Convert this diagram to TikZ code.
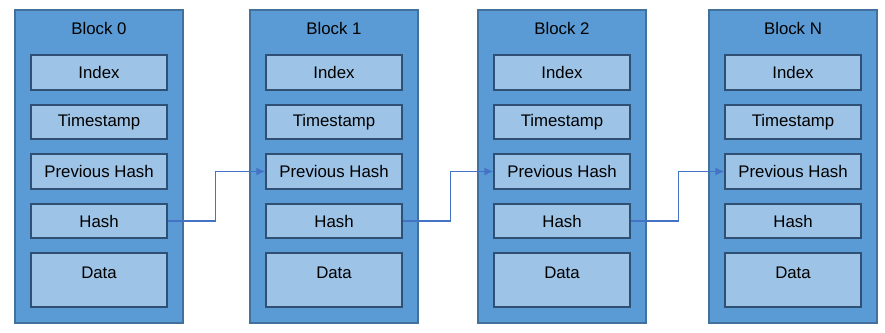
\documentclass[tikz,border=0pt]{standalone}
\usepackage{fontspec}
\setmainfont{Liberation Sans}
\usetikzlibrary{arrows.meta}
\definecolor{blockblue}{HTML}{5B9BD5}
\definecolor{blockedge}{HTML}{41719C}
\definecolor{fieldblue}{HTML}{9DC3E6}
\definecolor{fieldedge}{HTML}{2F4F73}
\definecolor{linkblue}{HTML}{4472C4}
\tikzset{
  block/.style={draw=blockedge, line width=1.4pt, fill=blockblue,
    minimum width=168pt, minimum height=313pt, inner sep=0pt},
  field/.style={draw=fieldedge, line width=1.1pt, fill=fieldblue,
    minimum width=136pt, minimum height=35pt, inner sep=0pt},
  link/.style={draw=linkblue, line width=1.6pt, -{Latex[length=9pt,width=8pt]}}
}
\begin{document}
\begin{tikzpicture}[x=1pt, y=-1pt, font=\fontsize{16.8}{19}\selectfont] % {{{
\useasboundingbox (0,0) rectangle (885,332);
\foreach \i/\xs/\name in {0/15/0, 1/250/1, 2/478/2, 3/709/N} {
  \begin{scope}[shift={(\xs,0)}] % one block {{{
    \node[block] (blk\i) at (84,166.5) {};
    \node (title\i) at (84,28) {Block \name};
    \node[field] (idx\i)  at (84,72.5) {Index};
    \node[field, minimum height=34pt] (ts\i) at (84,122) {Timestamp};
    \node[field] (prev\i) at (84,171.5) {Previous Hash};
    \node[field, minimum height=34pt] (hash\i) at (84,221) {Hash};
    \node[field, minimum height=54pt, text depth=14pt] (data\i) at (84,280) {Data};
  \end{scope} % }}}
}
% hash of one block feeds previous hash of the next
\foreach \i/\j in {0/1, 1/2, 2/3} {
  \draw[link] (hash\i.east) -- ++(48,0) |- (prev\j.west);
}
\end{tikzpicture} % }}}
\end{document}
